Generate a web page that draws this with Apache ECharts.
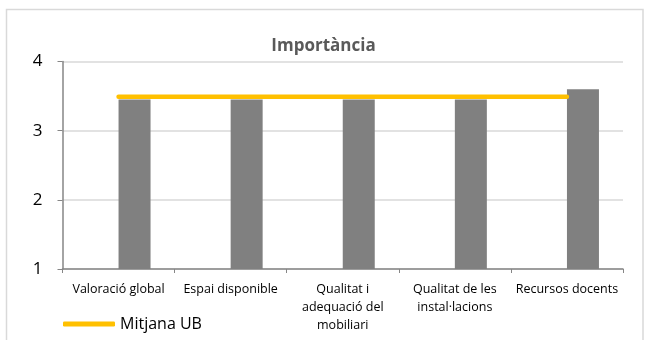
<!DOCTYPE html>
<html>
<head>
<meta charset="utf-8">
<script src="https://cdn.jsdelivr.net/npm/echarts@6/dist/echarts.min.js"></script>
<style>
  html, body { margin: 0; padding: 0; background: #fff; }
  #chart { width: 647px; height: 340px; }
</style>
</head>
<body>
<div id="chart"></div>
<script>
// Categories (wrapped as they appear under the axis)
const categories = [
  'Valoració global',
  'Espai disponible',
  'Qualitat i\nadequació del\nmobiliari',
  'Qualitat de les\ninstal·lacions',
  'Recursos docents'
];
// Centre scores per category
const centreValues = [3.45, 3.45, 3.45, 3.45, 3.6];
// University average
const mitjanaUB = [3.49, 3.49, 3.49, 3.49, 3.49];
// Empty companion series that keeps the grey bar to the right of each category centre
const emptySlot = [null, null, null, null, null];

const yTicks = { min: 1, max: 4, interval: 1 };

const chart = echarts.init(document.getElementById('chart'), null, { renderer: 'canvas' });
const font = '"Open Sans", "Liberation Sans", sans-serif';

chart.setOption({
  animation: false,
  backgroundColor: '#ffffff',
  title: {
    text: 'Importància',
    left: 'center',
    top: 33,
    textStyle: { fontFamily: font, fontSize: 17, fontWeight: 'bold', color: '#595959' }
  },
  graphic: [{
    type: 'rect',
    shape: { x: 6.5, y: 9.5, width: 636.5, height: 340 },
    style: { fill: null, stroke: '#d9d9d9', lineWidth: 1.5 },
    silent: true
  }],
  legend: {
    data: ['Mitjana UB'],
    left: 58,
    top: 311,
    icon: 'roundRect',
    itemWidth: 52,
    itemHeight: 5,
    itemGap: 2,
    textStyle: { fontFamily: font, fontSize: 16, color: '#000' }
  },
  grid: { left: 62.5, right: 24, top: 61.5, bottom: 71 },
  xAxis: {
    type: 'category',
    data: categories,
    axisLine: { lineStyle: { color: '#868686', width: 1.5 } },
    axisTick: { show: true, length: 4, lineStyle: { color: '#868686' } },
    axisLabel: {
      fontFamily: font, fontSize: 12.5, color: '#000', margin: 11,
      lineHeight: 18, interval: 0
    }
  },
  yAxis: {
    type: 'value',
    min: yTicks.min, max: yTicks.max, interval: yTicks.interval,
    axisLine: { show: true, lineStyle: { color: '#868686', width: 1.5 } },
    axisTick: { show: true, length: 5, lineStyle: { color: '#868686' } },
    axisLabel: { fontFamily: font, fontSize: 17, color: '#000', margin: 20 },
    splitLine: { lineStyle: { color: '#d9d9d9', width: 1.5 } }
  },
  series: [
    {
      name: 'buit',
      type: 'bar',
      data: emptySlot,
      barWidth: 32,
      barGap: '0%'
    },
    {
      name: 'Centre',
      type: 'bar',
      data: centreValues,
      barWidth: 32,
      barGap: '0%',
      itemStyle: { color: '#808080' }
    },
    {
      name: 'Mitjana UB',
      type: 'line',
      data: mitjanaUB,
      showSymbol: false,
      symbol: 'none',
      itemStyle: { color: '#FFC000' },
      lineStyle: { color: '#FFC000', width: 4.5, cap: 'round' },
      z: 5
    }
  ]
});
</script>
</body>
</html>
